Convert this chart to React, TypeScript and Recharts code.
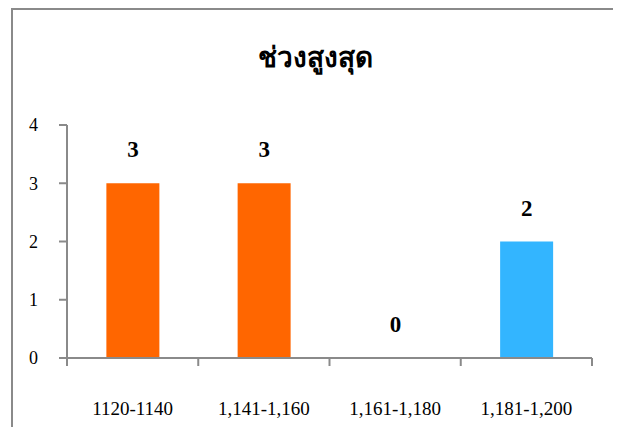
import { BarChart, Bar, XAxis, YAxis, LabelList, Cell } from 'recharts'

const categories = ['1120-1140', '1,141-1,160', '1,161-1,180', '1,181-1,200']
const counts = [3, 3, 0, 2]
const yTicks = [0, 1, 2, 3, 4]
const title = 'ช่วงสูงสุด'

const barColors = ['#FF6600', '#FF6600', '#FF6600', '#33B5FF']
const axisGrey = '#8a8a8a'
const serif = 'Liberation Serif'

// category label + tick marks on the band edges (Excel style)
const EdgeTick = (props: any) => {
  const { x, y, payload, index, visibleTicksCount, width } = props
  const half = payload.offset || width / visibleTicksCount / 2
  const last = index === visibleTicksCount - 1
  return (
    <g>
      <line x1={x - half} x2={x - half} y1={y} y2={y + 8} stroke={axisGrey} strokeWidth={2} />
      {last && <line x1={x + half} x2={x + half} y1={y} y2={y + 8} stroke={axisGrey} strokeWidth={2} />}
      <text x={x} y={y + 50} dy="0.35em" textAnchor="middle" fontSize={19} fill="#000" fontFamily={serif}>{payload.value}</text>
    </g>
  )
}

export default function App() {
  const data = categories.map((c, i) => ({ range: c, count: counts[i], label: String(counts[i]) }))
  return (
    <div style={{ position: 'relative', width: 621, height: 427, margin: '-8px 0 0 -8px', background: '#fff', fontFamily: serif, overflow: 'hidden' }}>
      <div style={{ position: 'absolute', left: 11, top: 8, width: 605, height: 440, border: `2px solid ${axisGrey}` }} />
      <div style={{ position: 'absolute', left: 12, width: 606, top: 35, textAlign: 'center', fontSize: 28, fontWeight: 'bold', color: '#000' }}>{title}</div>
      <div style={{ position: 'absolute', left: 0, top: 0 }}>
        <BarChart width={621} height={427} data={data} margin={{ top: 125, right: 29, left: 27, bottom: 11 }}
          barCategoryGap="30%" style={{ fontFamily: serif }}>
          <XAxis dataKey="range" height={58} stroke={axisGrey} strokeWidth={2} tickLine={false} tickSize={0} tickMargin={0}
            tick={<EdgeTick />} interval={0} />
          <YAxis domain={[0, 4]} ticks={yTicks} width={40} stroke={axisGrey} strokeWidth={2} tickSize={8} tickMargin={21}
            tick={{ fontSize: 18, fill: '#000', fontFamily: serif }} />
          <Bar dataKey="count" minPointSize={0.01} isAnimationActive={false}>
            {data.map((d, i) => <Cell key={d.range} fill={barColors[i]} />)}
            <LabelList dataKey="label" position="top" offset={26} style={{ fontSize: 23, fontWeight: 'bold', fill: '#000', fontFamily: serif }} />
          </Bar>
        </BarChart>
      </div>
    </div>
  )
}
